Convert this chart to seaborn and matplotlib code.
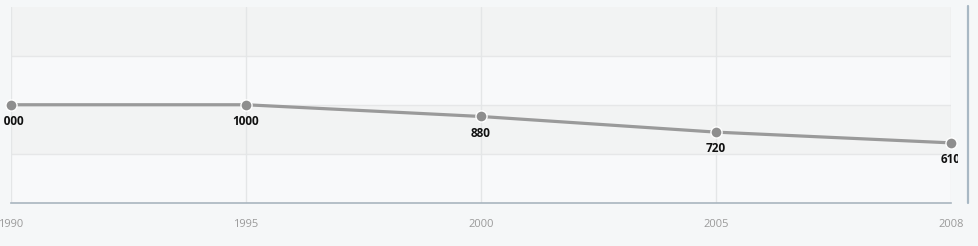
import matplotlib
matplotlib.use("Agg")
import matplotlib.pyplot as plt
import seaborn as sns
import numpy as np
import pandas as pd
from matplotlib.transforms import Bbox

years = ["1990", "1995", "2000", "2005", "2008"]
values = [1000, 1000, 880, 720, 610]
value_labels = ["1000", "1000", "880", "720", "610"]

sns.set_theme(style="white")
plt.rcParams['font.family'] = ['Open Sans', 'DejaVu Sans']

W, H = 979, 246
fig = plt.figure(figsize=(W / 100, H / 100), dpi=100)
bg = "#f5f7f8"
fig.patch.set_facecolor(bg)

left, right, top, bottom = 11, 951, 7, 202.5
ax = fig.add_axes([left / W, (H - bottom) / H, (right - left) / W, (bottom - top) / H])
ax.set_facecolor("#f8f9fa")

df = pd.DataFrame({"pos": np.arange(len(years)), "value": values})

ax.set_xlim(0, len(years) - 1)
ax.set_ylim(0, 2000)

# alternating bands
for lo in (500, 1500):
    ax.axhspan(lo, lo + 500, color="#f2f3f3", zorder=0, lw=0)
for yv in (500, 1000, 1500):
    ax.axhline(yv, color="#e6e7e8", lw=1, zorder=0.5)
for xv in df["pos"]:
    ax.axvline(xv, color="#e4e6e7", lw=1, zorder=0.5)

sns.lineplot(data=df, x="pos", y="value", ax=ax, color="#9a9a9a", lw=2.3,
             marker="o", markersize=8, markerfacecolor="#8e8e8e",
             markeredgecolor="white", markeredgewidth=1.0, zorder=3, clip_on=False)

clip = Bbox.from_extents(3.6, 0, 958, H)
for x, v, lab in zip(df["pos"], values, value_labels):
    t = ax.annotate(lab, (x, v), xytext=(0, -7.3), textcoords="offset points",
                    ha="center", va="top", fontsize=8.5, fontweight="bold",
                    color="#111111", annotation_clip=False, zorder=4)
    t.set_clip_box(clip)
    t.set_clip_on(True)

ax.set_xticks(df["pos"])
ax.set_xticklabels(years)
ax.set_yticks([])
ax.set_xlabel("")
ax.set_ylabel("")
ax.tick_params(axis="x", length=5, width=1, color="#e4e6e7", pad=7,
               labelsize=8, labelcolor="#9a9a9a", direction="out")
for s in ("top", "right", "left"):
    ax.spines[s].set_visible(False)
ax.spines["bottom"].set_color("#a9b5bf")
ax.spines["bottom"].set_linewidth(1.2)

# right-side vertical rule
fig.add_artist(plt.Line2D([967.7 / W, 967.7 / W], [(H - 6) / H, (H - 203) / H],
                          color="#a8b8c4", lw=1.6, transform=fig.transFigure))

fig.savefig("out.png", dpi=100, facecolor=bg)
